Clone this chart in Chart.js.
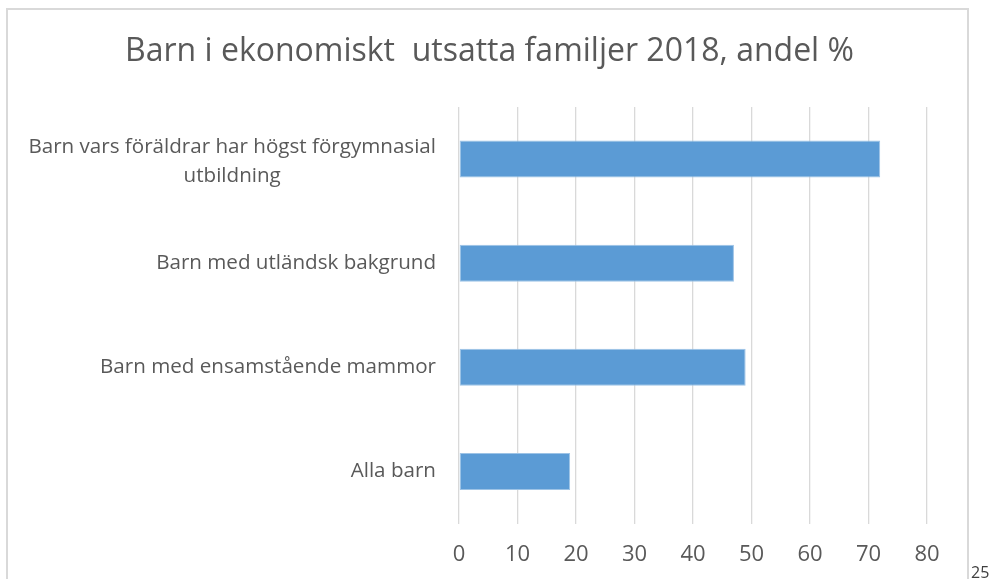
<!DOCTYPE html>
<html>
<head>
<meta charset="utf-8">
<script src="https://cdn.jsdelivr.net/npm/chart.js@4.4.1/dist/chart.umd.min.js"></script>
<style>
  html, body { margin: 0; padding: 0; background: #ffffff; width: 992px; height: 579px; overflow: hidden; }
  #frame { position: absolute; left: 6px; top: 8px; width: 963px; height: 600px; box-sizing: border-box; border: 2px solid #d9d9d9; }
  #c { position: absolute; left: 0; top: 0; }
  #pg { position: absolute; left: 971px; top: 561px; font: 16px "Open Sans", sans-serif; color: #404040; }
</style>
</head>
<body>
<div id="frame"></div>
<canvas id="c" width="992" height="579"></canvas>
<div id="pg">25</div>
<script>
const titleText = "Barn i ekonomiskt  utsatta familjer 2018, andel %";
const categories = [
  ["Barn vars föräldrar har högst förgymnasial", "utbildning"],
  "Barn med utländsk bakgrund",
  "Barn med ensamstående mammor",
  "Alla barn"
];
const values = [72, 47, 49, 19];
const xTicks = [0, 10, 20, 30, 40, 50, 60, 70, 80];

const FONT = "'Open Sans', sans-serif";
const textColor = "#595959";
const LABEL_SIZE = 20.6;
const LABEL_LINE = 29;

// Draws category labels: block right-aligned, lines centred within the block (Excel style)
const categoryLabels = {
  id: 'categoryLabels',
  afterDraw(chart) {
    const ctx = chart.ctx;
    const yScale = chart.scales.y;
    const right = yScale.right - 23;
    ctx.save();
    ctx.font = LABEL_SIZE + "px " + FONT;
    ctx.fillStyle = textColor;
    ctx.textBaseline = 'middle';
    ctx.textAlign = 'center';
    chart.data.labels.forEach((lab, i) => {
      const lines = Array.isArray(lab) ? lab : [lab];
      const w = Math.max(...lines.map(l => ctx.measureText(l).width));
      const cx = right - w / 2;
      const cy = yScale.getPixelForValue(i) + (lines.length > 1 ? 2.5 : 0);
      const y0 = cy - (lines.length - 1) * LABEL_LINE / 2;
      lines.forEach((l, k) => ctx.fillText(l, cx, y0 + k * LABEL_LINE));
    });
    ctx.restore();
  }
};

new Chart(document.getElementById('c'), {
  type: 'bar',
  data: {
    labels: categories,
    datasets: [{
      data: values,
      backgroundColor: '#5b9bd5',
      borderColor: '#9dc3e6',
      borderWidth: 1,
      borderSkipped: false,
      categoryPercentage: 1,
      barPercentage: 0.355
    }]
  },
  options: {
    indexAxis: 'y',
    responsive: false,
    animation: false,
    layout: { padding: { left: 0, right: 13, top: 0, bottom: 0 } },
    plugins: {
      legend: { display: false },
      tooltip: { enabled: false },
      title: {
        display: true,
        text: titleText,
        color: textColor,
        font: { family: FONT, size: 32, weight: 'normal', lineHeight: 1.2 },
        padding: { top: 33, bottom: 35.6 }
      }
    },
    scales: {
      x: {
        min: 0, max: 80,
        ticks: { stepSize: 10, color: textColor, font: { family: FONT, size: 22 }, padding: 18,
                 callback: (v) => xTicks.includes(v) ? String(v) : '' },
        grid: { color: '#d9d9d9', lineWidth: 1.3, drawTicks: false },
        border: { display: false },
        afterFit: (s) => { s.height = 579 - 523.5; }
      },
      y: {
        ticks: { display: false },
        grid: { display: false, drawTicks: false },
        border: { display: false },
        afterFit: (s) => { s.width = 459; }
      },
      spacer: {
        type: 'linear',
        position: 'right',
        display: true,
        ticks: { display: false },
        grid: { display: false, drawTicks: false },
        border: { display: false },
        afterFit: (s) => { s.width = 52; }
      }
    }
  },
  plugins: [categoryLabels]
});
</script>
</body>
</html>
